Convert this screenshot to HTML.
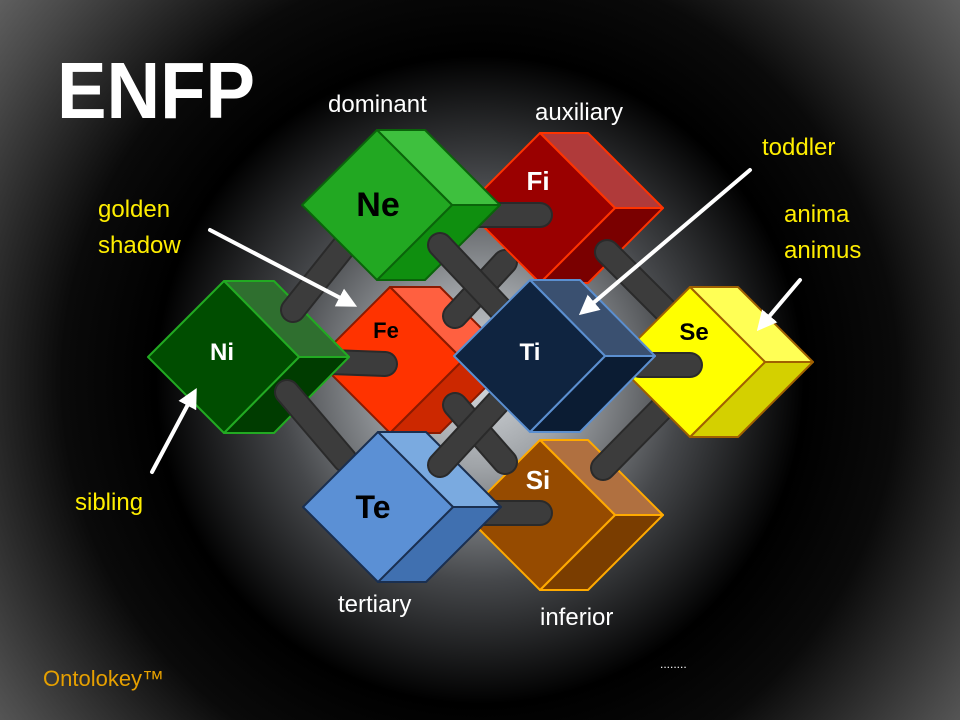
<!DOCTYPE html>
<html><head><meta charset="utf-8"><style>
html,body{margin:0;padding:0;width:960px;height:720px;overflow:hidden;background:#000}
svg{display:block}
text{font-family:"Liberation Sans",sans-serif}
</style></head><body>
<svg width="960" height="720" viewBox="0 0 960 720" xmlns="http://www.w3.org/2000/svg">
<defs>
<radialGradient id="bg" cx="480" cy="380" r="720" gradientUnits="userSpaceOnUse">
<stop offset="0" stop-color="#d4d8dc"/>
<stop offset="0.12" stop-color="#a0a4a8"/>
<stop offset="0.28" stop-color="#45474a"/>
<stop offset="0.45" stop-color="#000"/>
<stop offset="0.58" stop-color="#0a0a0a"/>
<stop offset="0.78" stop-color="#4a4a4a"/>
<stop offset="1" stop-color="#8a8a8a"/>
</radialGradient>
<marker id="ah" markerWidth="5" markerHeight="5" refX="3" refY="2.5" orient="auto" markerUnits="strokeWidth">
<path d="M0,0 L5,2.5 L0,5 z" fill="#fff"/>
</marker>
</defs>
<rect width="960" height="720" fill="url(#bg)"/>

<g stroke-linejoin="round">
<g stroke="#8b1a00" stroke-width="2">
<polygon points="390,287 440,287 513,360 463,360" fill="#ff6040"/>
<polygon points="463,360 513,360 440,433 390,433" fill="#cc2800"/>
<polygon points="390,287 463,360 390,433 317,360" fill="#ff3300"/>
</g>
<g stroke="#ffaa00" stroke-width="2">
<polygon points="540,440 588,440 663,515 615,515" fill="#b07040"/>
<polygon points="615,515 663,515 588,590 540,590" fill="#7a3d00"/>
<polygon points="540,440 615,515 540,590 465,515" fill="#964b00"/>
</g>
</g>
<g stroke="#2a2a2a" stroke-width="26" stroke-linecap="round" fill="none">
<line x1="455" y1="316" x2="505" y2="262"/>
</g>
<g stroke="#3c3c3c" stroke-width="22" stroke-linecap="round" fill="none">
<line x1="455" y1="316" x2="505" y2="262"/>
</g>
<g stroke="#ff3300" stroke-width="2" stroke-linejoin="round">
<polygon points="540,133 588,133 663,208 615,208" fill="#b03a3a"/>
<polygon points="615,208 663,208 588,283 540,283" fill="#7a0000"/>
<polygon points="540,133 615,208 540,283 465,208" fill="#9a0000"/>
</g>
<g stroke-linecap="round" fill="none">
<g stroke="#2a2a2a" stroke-width="26"><line x1="607" y1="252" x2="690" y2="335"/><line x1="603" y1="468" x2="665" y2="405"/></g>
<g stroke="#3c3c3c" stroke-width="22"><line x1="607" y1="252" x2="690" y2="335"/><line x1="603" y1="468" x2="665" y2="405"/></g>
</g>
<g stroke="#a06000" stroke-width="2" stroke-linejoin="round">
<polygon points="690,287 738,287 813,362 765,362" fill="#ffff55"/>
<polygon points="765,362 813,362 738,437 690,437" fill="#d4d000"/>
<polygon points="690,287 765,362 690,437 615,362" fill="#ffff00"/>
</g>
<g stroke-linecap="round" fill="none">
<g stroke="#2a2a2a" stroke-width="26"><line x1="330" y1="362" x2="385" y2="364"/></g>
<g stroke="#3c3c3c" stroke-width="22"><line x1="330" y1="362" x2="385" y2="364"/></g>
</g>
<g stroke="#22aa22" stroke-width="2" stroke-linejoin="round">
<polygon points="224,281 274,281 349,357 299,357" fill="#2f6f2f"/>
<polygon points="299,357 349,357 274,433 224,433" fill="#003c00"/>
<polygon points="224,281 299,357 224,433 148,357" fill="#004d00"/>
</g>
<g stroke-linecap="round" fill="none">
<g stroke="#2a2a2a" stroke-width="26"><line x1="293" y1="310" x2="345" y2="245"/><line x1="470" y1="215" x2="540" y2="215"/></g>
<g stroke="#3c3c3c" stroke-width="22"><line x1="293" y1="310" x2="345" y2="245"/><line x1="470" y1="215" x2="540" y2="215"/></g>
</g>
<g stroke="#0a640a" stroke-width="2" stroke-linejoin="round">
<polygon points="377,130 425,130 500,205 452,205" fill="#3ec03e"/>
<polygon points="452,205 500,205 425,280 377,280" fill="#0f8f0f"/>
<polygon points="377,130 452,205 377,280 302,205" fill="#22a822"/>
</g>
<g stroke-linecap="round" fill="none">
<g stroke="#2a2a2a" stroke-width="26"><line x1="440" y1="245" x2="520" y2="330"/><line x1="287" y1="392" x2="345" y2="460"/><line x1="455" y1="405" x2="505" y2="462"/><line x1="480" y1="513" x2="540" y2="513"/><line x1="640" y1="365" x2="690" y2="365"/></g>
<g stroke="#3c3c3c" stroke-width="22"><line x1="440" y1="245" x2="520" y2="330"/><line x1="287" y1="392" x2="345" y2="460"/><line x1="455" y1="405" x2="505" y2="462"/><line x1="480" y1="513" x2="540" y2="513"/><line x1="640" y1="365" x2="690" y2="365"/></g>
</g>
<g stroke="#1a2f50" stroke-width="2" stroke-linejoin="round">
<polygon points="378,432 426,432 501,507 453,507" fill="#7aaae0"/>
<polygon points="453,507 501,507 426,582 378,582" fill="#4070b0"/>
<polygon points="378,432 453,507 378,582 303,507" fill="#5b90d5"/>
</g>
<g stroke-linecap="round" fill="none">
<g stroke="#2a2a2a" stroke-width="26"><line x1="440" y1="465" x2="500" y2="400"/></g>
<g stroke="#3c3c3c" stroke-width="22"><line x1="440" y1="465" x2="500" y2="400"/></g>
</g>
<g stroke="#5b8fd0" stroke-width="2" stroke-linejoin="round">
<polygon points="530,280 580,280 655,356 605,356" fill="#3a5070"/>
<polygon points="605,356 655,356 580,432 530,432" fill="#0b1c33"/>
<polygon points="530,280 605,356 530,432 454,356" fill="#0f2440"/>
</g>

<g font-weight="bold" text-anchor="middle">
<text x="378" y="216" font-size="34" fill="#000">Ne</text>
<text x="538" y="190" font-size="26" fill="#fff">Fi</text>
<text x="222" y="360" font-size="24" fill="#fff">Ni</text>
<text x="386" y="338" font-size="22" fill="#000">Fe</text>
<text x="530" y="360" font-size="24" fill="#fff">Ti</text>
<text x="694" y="340" font-size="24" fill="#000">Se</text>
<text x="373" y="518" font-size="32" fill="#000">Te</text>
<text x="538" y="489" font-size="26" fill="#fff">Si</text>
</g>

<g stroke="#fff" stroke-width="4" fill="none" stroke-linecap="round">
<line x1="210" y1="230" x2="350" y2="303" marker-end="url(#ah)"/>
<line x1="750" y1="170" x2="585" y2="310" marker-end="url(#ah)"/>
<line x1="800" y1="280" x2="762" y2="325" marker-end="url(#ah)"/>
<line x1="152" y1="472" x2="193" y2="395" marker-end="url(#ah)"/>
</g>

<text x="57" y="118" font-size="80" font-weight="bold" fill="#fff" textLength="198" lengthAdjust="spacingAndGlyphs">ENFP</text>
<g font-size="24" fill="#fff">
<text x="328" y="112">dominant</text>
<text x="535" y="120">auxiliary</text>
<text x="338" y="612">tertiary</text>
<text x="540" y="625">inferior</text>
</g>
<g font-size="24" fill="#ffee00">
<text x="98" y="217">golden</text>
<text x="98" y="253">shadow</text>
<text x="762" y="155">toddler</text>
<text x="784" y="222">anima</text>
<text x="784" y="258">animus</text>
<text x="75" y="510">sibling</text>
</g>
<text x="43" y="686" font-size="22" fill="#e6a000">Ontolokey™</text>
<text x="660" y="668" font-size="12" fill="#fff">........</text>
</svg>
</body></html>
